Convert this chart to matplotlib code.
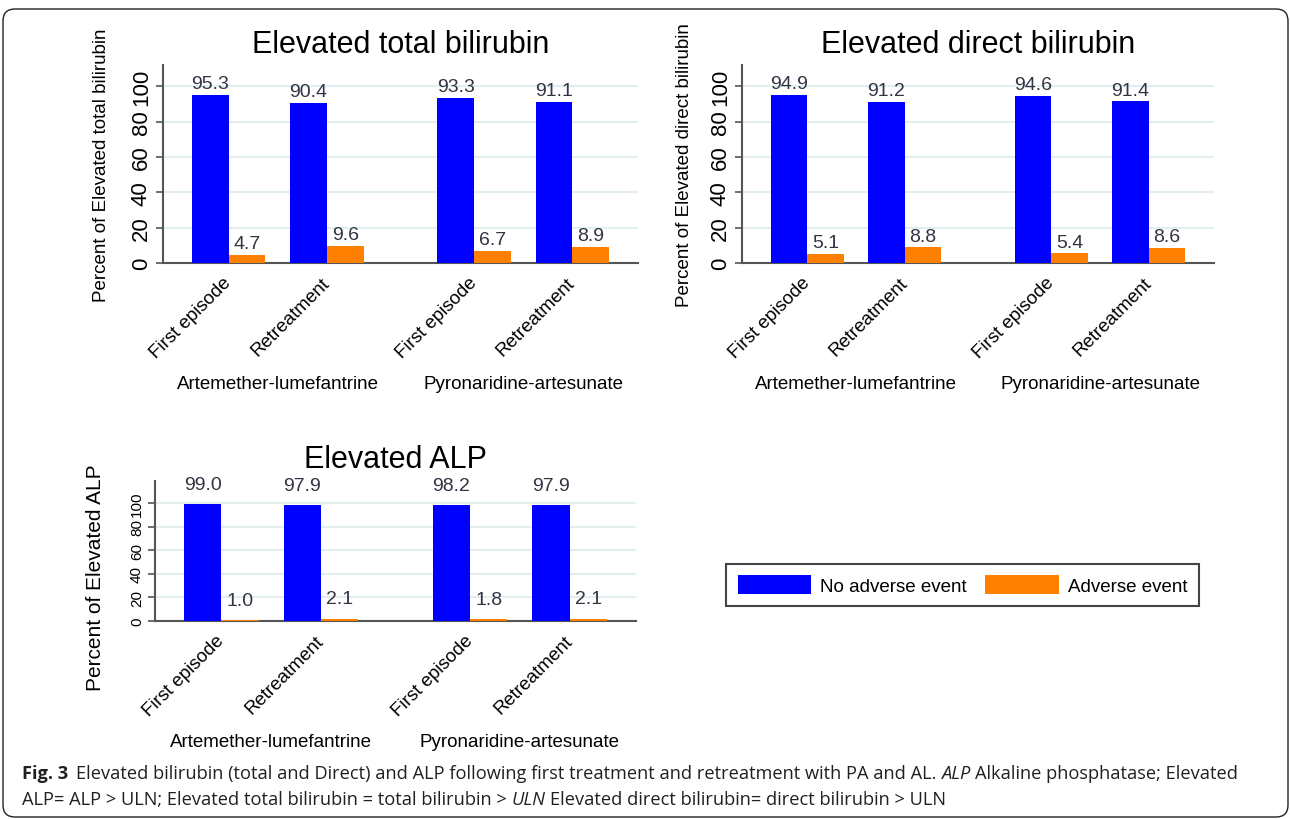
import numpy as np
import matplotlib
matplotlib.use('Agg')
import matplotlib.pyplot as plt
import matplotlib.transforms as mtransforms
from matplotlib.patches import FancyBboxPatch, Patch

plt.rcParams['font.family'] = ['Liberation Sans', 'DejaVu Sans']

# data
treatments = ['Artemether-lumefantrine', 'Pyronaridine-artesunate']
episodes = ['First episode', 'Retreatment']
series = ['No adverse event', 'Adverse event']

total_no = [95.3, 90.4, 93.3, 91.1]
total_ae = [4.7, 9.6, 6.7, 8.9]
direct_no = [94.9, 91.2, 94.6, 91.4]
direct_ae = [5.1, 8.8, 5.4, 8.6]
alp_no = [99.0, 97.9, 98.2, 97.9]
alp_ae = [1.0, 2.1, 1.8, 2.1]

yticks = [0, 20, 40, 60, 80, 100]

blue = '#0000ff'
orange = '#ff7f00'
val_color = '#333344'
grid_color = '#e3eeef'
axis_color = '#555555'

W, H = 1290, 820
fig = plt.figure(figsize=(W / 100, H / 100), dpi=100)

pos = np.array([0, 1, 2.5, 3.5])
bw = 0.374
group_x = [0.5, 3.0]


def px_axes(left, top, right, bottom):
    return fig.add_axes([left / W, 1 - bottom / H, (right - left) / W, (bottom - top) / H])


def panel(ax, no_ae, ae, title, ylabel, ymax, tick_fs, ylab_fs, ylab_xy, title_y, group_y, val_off):
    ax.bar(pos - bw / 2, no_ae, bw, color=blue, zorder=3)
    ax.bar(pos + bw / 2, ae, bw, color=orange, zorder=3)
    for xs, vals in ((pos - bw / 2, no_ae), (pos + bw / 2, ae)):
        for x, v in zip(xs, vals):
            ax.annotate(f'{v:.1f}', (x, v), xytext=(0, val_off), textcoords='offset points',
                        ha='center', va='bottom', fontsize=14, color=val_color)
    ax.set_xlim(-0.667, 4.167)
    ax.set_ylim(0, ymax)
    ax.set_yticks(yticks)
    ax.set_yticklabels([str(t) for t in yticks], rotation=90, va='center', fontsize=tick_fs)
    ax.tick_params(axis='y', length=5, width=1.2, color=axis_color, pad=3)
    ax.set_xticks(pos)
    ax.set_xticklabels(episodes * 2, rotation=45, ha='right', va='center',
                       rotation_mode='anchor', fontsize=13.5)
    ax.tick_params(axis='x', length=0, pad=12)
    for spine in ('top', 'right'):
        ax.spines[spine].set_visible(False)
    for spine in ('left', 'bottom'):
        ax.spines[spine].set_color(axis_color)
        ax.spines[spine].set_linewidth(1.5)
    ax.grid(axis='y', color=grid_color, linewidth=1.5, zorder=0)
    ax.set_axisbelow(True)
    ax.set_ylabel(ylabel, fontsize=ylab_fs)
    ax.yaxis.set_label_coords(*ylab_xy)
    ax.text(0.5, title_y, title, transform=ax.transAxes, ha='center', va='center', fontsize=22)
    trans = mtransforms.blended_transform_factory(ax.transData, ax.transAxes)
    for gx, name in zip(group_x, treatments):
        ax.text(gx, group_y, name, transform=trans, ha='center', va='center', fontsize=13.5)


ax1 = px_axes(163, 66, 638, 264)
panel(ax1, total_no, total_ae, 'Elevated total bilirubin', 'Percent of Elevated total bilirubin',
      112, 16, 13.5, (-0.112, 0.5), 1.106, -0.61, 2)

ax2 = px_axes(742, 66, 1214, 264)
panel(ax2, direct_no, direct_ae, 'Elevated direct bilirubin', 'Percent of Elevated direct bilirubin',
      112, 16, 13.5, (-0.104, 0.5), 1.106, -0.61, 2)

ax3 = px_axes(155, 482, 636, 622)
panel(ax3, alp_no, alp_ae, 'Elevated ALP', 'Percent of Elevated ALP',
      118.6, 11, 15, (-0.104, 0.32), 1.157, -0.864, 8)

handles = [Patch(facecolor=blue), Patch(facecolor=orange)]
leg = fig.legend(handles, series, loc='center', bbox_to_anchor=(962.5 / W, 1 - 586 / H),
                 ncol=2, fontsize=13.5, frameon=True, fancybox=False, framealpha=1,
                 edgecolor='#444444', handlelength=3.9, handleheight=1.2,
                 handletextpad=0.5, columnspacing=1.0, borderpad=0.6, borderaxespad=0)
leg.get_frame().set_linewidth(1.5)

# outer rounded frame
fig.add_artist(FancyBboxPatch((0.03, 0.02), 12.85, 8.08, boxstyle='round,pad=0,rounding_size=0.12',
                              transform=fig.dpi_scale_trans, facecolor='none',
                              edgecolor='#222222', linewidth=1.0))

# caption, written run by run so the bold / italic parts sit inline
cap_family = 'Open Sans'
cap_color = '#231f20'
line1 = [('Fig. 3', 'bold', 1.6),
         ('Elevated bilirubin (total and Direct) and ALP following first treatment and retreatment with PA and AL.', 'normal', 1),
         ('ALP', 'italic', 1),
         ('Alkaline phosphatase; Elevated', 'normal', 0)]
line2 = [('ALP= ALP > ULN; Elevated total bilirubin = total bilirubin >', 'normal', 1),
         ('ULN', 'italic', 1),
         ('Elevated direct bilirubin= direct bilirubin > ULN', 'normal', 0)]

renderer = fig.canvas.get_renderer()


def write_runs(runs, x0, ybase, fs):
    sp = fig.text(0, 0, 'a a', fontsize=fs, family=cap_family)
    sp2 = fig.text(0, 0, 'aa', fontsize=fs, family=cap_family)
    space = sp.get_window_extent(renderer).width - sp2.get_window_extent(renderer).width
    sp.remove()
    sp2.remove()
    x = x0
    made = []
    for s, kind, gap in runs:
        t = fig.text(x / W, 1 - ybase / H, s, fontsize=fs, family=cap_family,
                     weight='bold' if kind == 'bold' else 'normal',
                     style='italic' if kind == 'italic' else 'normal',
                     va='baseline', ha='left', color=cap_color)
        made.append(t)
        x = t.get_window_extent(renderer).x1 + gap * space
    return x - x0, made


w1, tmp = write_runs(line1, 22, 779, 11)
for t in tmp:
    t.remove()
cap_fs = 11 * 1223 / w1
write_runs(line1, 22, 779, cap_fs)
write_runs(line2, 22, 805, cap_fs)

fig.savefig('out.png', dpi=100)
